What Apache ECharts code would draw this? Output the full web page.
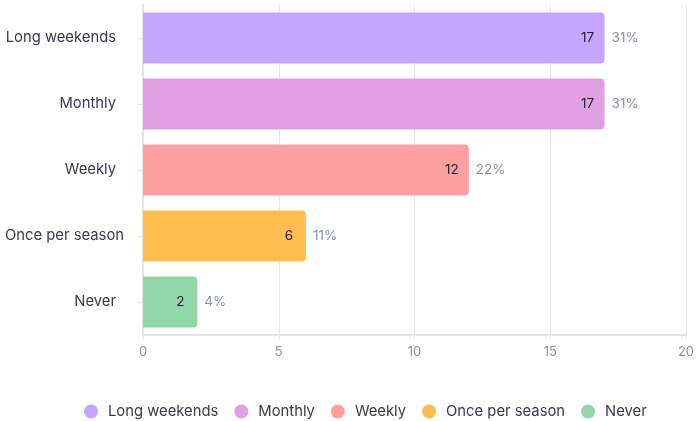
<!DOCTYPE html>
<html>
<head>
<meta charset="utf-8">
<script src="https://cdn.jsdelivr.net/npm/echarts@6/dist/echarts.min.js"></script>
<style>
    html, body { margin: 0; padding: 0; background: #fff; }
    #container { width: 698px; height: 421px; }
</style>
</head>
<body>
<div id="container"></div>
<script type="text/javascript">
    var categories = ['Long weekends', 'Monthly', 'Weekly', 'Once per season', 'Never'];
    var counts = [17, 17, 12, 6, 2];
    var percents = ['31%', '31%', '22%', '11%', '4%'];
    var colors = ['#c5a6fe', '#e1a0e2', '#fda09f', '#ffbe4f', '#92d7aa'];
    var xTicks = [0, 5, 10, 15, 20];

    var myChart = echarts.init(document.getElementById('container'));
    var fontFamily = 'Inter, "Noto Sans", sans-serif';

    // one series per category so the legend lists every row
    var series = categories.map(function (name, i) {
        var data = categories.map(function (c, j) {
            return j === i ? counts[j] : '-';
        });
        return {
            name: name,
            type: 'bar',
            stack: 'all',
            barCategoryGap: '23%',
            itemStyle: { color: colors[i], borderRadius: [0, 4, 4, 0] },
            label: {
                show: true,
                position: 'right',
                distance: 0,
                offset: [-27, 0],
                formatter: function (p) {
                    return '{v|' + p.value + '}{p|' + percents[p.dataIndex] + '}';
                },
                rich: {
                    v: { width: 20, align: 'right', color: '#1d1d2b', fontSize: 13.5, fontFamily: fontFamily },
                    p: { padding: [0, 0, 0, 14], color: '#8d90a6', fontSize: 13.5, fontFamily: fontFamily }
                }
            },
            data: data
        };
    });

    var option = {
        animation: false,
        grid: { left: 143, right: 12, top: 5, bottom: 86, containLabel: false, outerBoundsMode: 'none' },
        legend: {
            top: 399,
            left: 79,
            icon: 'circle',
            itemWidth: 14,
            itemHeight: 14,
            itemGap: 16,
            textStyle: { color: '#3a3a4c', fontSize: 14.8, padding: [0, 0, 0, 5], fontFamily: fontFamily },
            data: categories
        },
        xAxis: {
            type: 'value',
            min: xTicks[0],
            max: xTicks[xTicks.length - 1],
            interval: 5,
            axisLine: { show: true, lineStyle: { color: '#e3e3ec', width: 2 } },
            axisTick: { show: true, length: 4, lineStyle: { color: '#e3e3ec' } },
            splitLine: { show: true, lineStyle: { color: '#e6e6ef' } },
            axisLabel: { color: '#8d90a6', fontSize: 13, margin: 11, fontFamily: fontFamily }
        },
        yAxis: {
            type: 'category',
            inverse: true,
            data: categories,
            axisLine: { show: true, lineStyle: { color: '#e3e3ec', width: 2 } },
            axisTick: { show: true, alignWithLabel: true, length: 5, lineStyle: { color: '#e3e3ec' } },
            axisLabel: {
                color: '#3a3a4c',
                fontSize: 14.8,
                margin: 19,
                fontFamily: fontFamily,
                // the long label sits a little further right, as in the source
                formatter: function (v) {
                    return v === 'Once per season' ? v : '{n|' + v + '}';
                },
                rich: {
                    n: { color: '#3a3a4c', fontSize: 14.8, fontFamily: fontFamily, padding: [0, 8, 0, 0] }
                }
            }
        },
        series: series
    };

    myChart.setOption(option, true);
</script>
</body>
</html>
